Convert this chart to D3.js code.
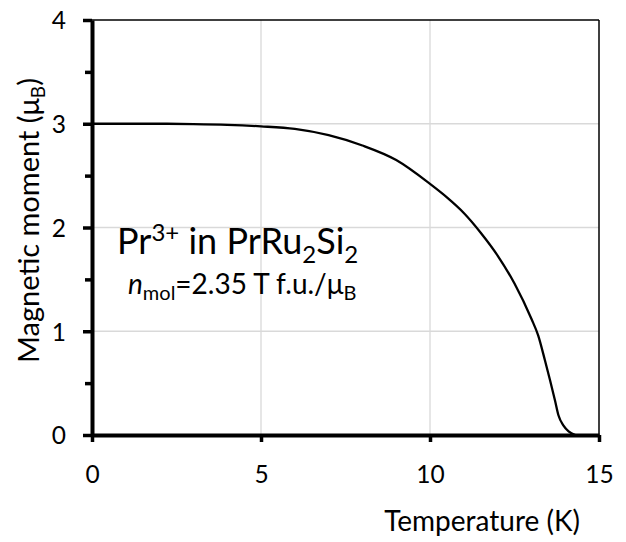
<!DOCTYPE html>
<html>
<head>
<meta charset="utf-8">
<script src="https://cdn.jsdelivr.net/npm/d3@7"></script>
<style>
  body { margin: 0; background: #fff; }
  text { font-family: Lato, "Open Sans", sans-serif; fill: #000; }
</style>
</head>
<body>
<svg id="chart" width="626" height="542"></svg>
<script>
// temperature (K) and ordered moment (muB)
var temps = [0, 1, 2, 3, 4, 5, 6, 7, 8, 9, 10, 10.5, 11, 11.5, 12, 12.5, 13, 13.2, 13.4, 13.55, 13.7, 13.8, 13.95, 14.1, 14.3];
var moments = [3.0, 3.0, 3.0, 2.997, 2.99, 2.975, 2.95, 2.89, 2.79, 2.65, 2.42, 2.29, 2.14, 1.95, 1.73, 1.46, 1.12, 0.96, 0.72, 0.53, 0.33, 0.19, 0.09, 0.035, 0.0];
var xTicks = [0, 5, 10, 15];
var yTicks = [0, 1, 2, 3, 4];
var yMinorTicks = [0.5, 1.5, 2.5, 3.5];

var svg = d3.select("#chart");

var x = d3.scaleLinear().domain([0, 15]).range([92, 599]);
var y = d3.scaleLinear().domain([0, 4]).range([435, 20]);

// gridlines
svg.append("g").selectAll("line").data(xTicks.slice(1, 3)).enter().append("line")
    .attr("x1", function(d) { return x(d); }).attr("x2", function(d) { return x(d); })
    .attr("y1", y(0)).attr("y2", y(4))
    .attr("stroke", "#d9d9d9").attr("stroke-width", 1.3);
svg.append("g").selectAll("line").data(yTicks.slice(1, 4)).enter().append("line")
    .attr("x1", x(0)).attr("x2", x(15))
    .attr("y1", function(d) { return y(d); }).attr("y2", function(d) { return y(d); })
    .attr("stroke", "#d9d9d9").attr("stroke-width", 1.3);

// top and right border
svg.append("line").attr("x1", x(0)).attr("x2", x(15)).attr("y1", y(4)).attr("y2", y(4))
    .attr("stroke", "#000").attr("stroke-width", 1.5);
svg.append("line").attr("x1", x(15)).attr("x2", x(15)).attr("y1", y(4)).attr("y2", y(0))
    .attr("stroke", "#000").attr("stroke-width", 1.5);

// the curve
var pts = temps.map(function(t, i) { return [t, moments[i]]; });
var line = d3.line()
    .x(function(d) { return x(d[0]); })
    .y(function(d) { return y(d[1]); })
    .curve(d3.curveMonotoneX);
svg.append("path").datum(pts)
    .attr("d", line)
    .attr("fill", "none").attr("stroke", "#000").attr("stroke-width", 2.3);

// axes
var yAxis = svg.append("g").attr("transform", "translate(" + x(0) + ",0)")
    .call(d3.axisLeft(y).tickValues(yTicks).tickSize(9).tickSizeOuter(0).tickPadding(17).tickFormat(d3.format("d")));
svg.append("g").attr("transform", "translate(" + x(0) + ",0)")
    .call(d3.axisLeft(y).tickValues(yMinorTicks).tickSize(7).tickSizeOuter(0).tickFormat(""))
    .select(".domain").remove();
var xAxis = svg.append("g").attr("transform", "translate(0," + y(0) + ")")
    .call(d3.axisBottom(x).tickValues(xTicks).tickSize(7).tickSizeOuter(0).tickPadding(24).tickFormat(d3.format("d")));

svg.selectAll(".domain").attr("stroke", "#000").attr("stroke-width", 4);
svg.selectAll(".tick line").attr("stroke", "#000").attr("stroke-width", 3.5);
svg.selectAll(".tick text").style("font-size", "24.5px").attr("fill", "#000");
yAxis.selectAll(".tick text").attr("dy", "0.36em");

// axis titles
svg.append("text")
    .attr("x", 580).attr("y", 531)
    .attr("text-anchor", "end")
    .style("font-size", "28px")
    .text("Temperature (K)");

var yt = svg.append("text")
    .attr("transform", "translate(39,363) rotate(-90)")
    .attr("text-anchor", "start")
    .style("font-size", "29px");
yt.append("tspan").text("Magnetic moment (\u03bc");
yt.append("tspan").attr("dy", 6).style("font-size", "19px").text("B");
yt.append("tspan").attr("dy", -6).text(")");

// annotation
var a1 = svg.append("text").attr("x", 117).attr("y", 254).style("font-size", "36px");
a1.append("tspan").text("Pr");
a1.append("tspan").attr("dy", -13).style("font-size", "24px").text("3+");
a1.append("tspan").attr("dy", 13).text(" in PrRu");
a1.append("tspan").attr("dy", 9).style("font-size", "24px").text("2");
a1.append("tspan").attr("dy", -9).text("Si");
a1.append("tspan").attr("dy", 9).style("font-size", "24px").text("2");

var a2 = svg.append("text").attr("x", 128).attr("y", 294).style("font-size", "28px");
a2.append("tspan").style("font-style", "italic").text("n");
a2.append("tspan").attr("dy", 6).style("font-size", "20px").text("mol");
a2.append("tspan").attr("dy", -6).text("=2.35 T f.u./\u03bc");
a2.append("tspan").attr("dy", 6).style("font-size", "20px").text("B");
</script>
</body>
</html>
